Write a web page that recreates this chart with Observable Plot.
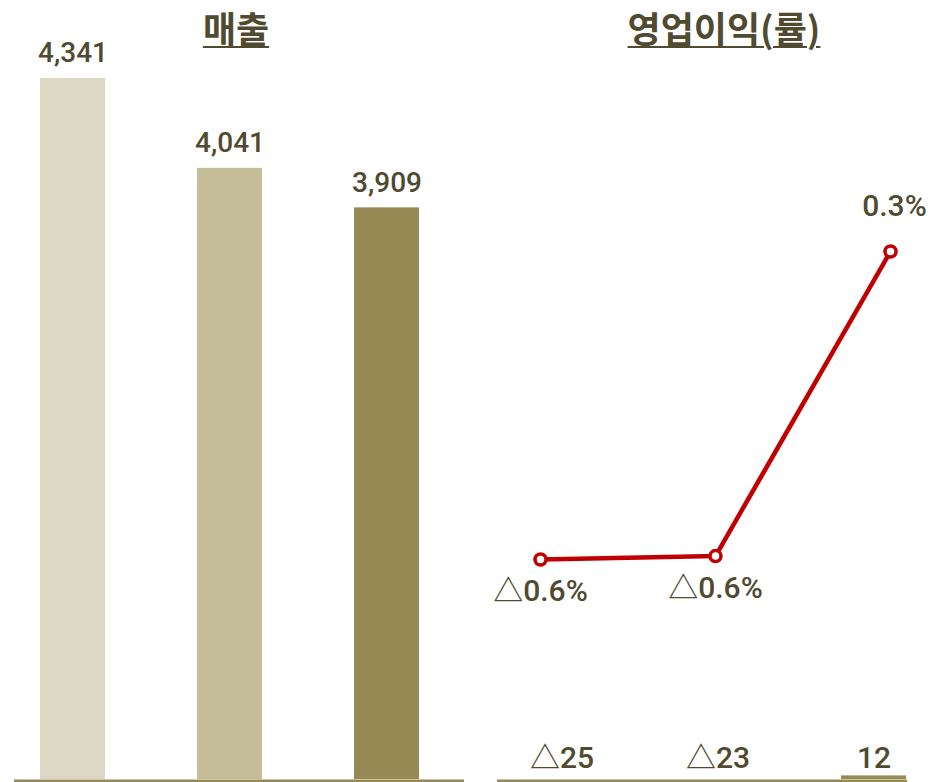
<!DOCTYPE html>
<html>
<head>
<meta charset="utf-8">
<script src="https://cdn.jsdelivr.net/npm/d3@7"></script>
<script src="https://cdn.jsdelivr.net/npm/@observablehq/plot@0.6"></script>
<style>
  html, body { margin: 0; padding: 0; background: #ffffff; }
  #wrap { position: relative; width: 945px; height: 782px; overflow: hidden; }
  #wrap svg { position: absolute; left: 0; top: 0; z-index: 1; }
  .title {
    position: absolute; top: 5px; width: 300px; text-align: center; z-index: 5;
    font-family: "Noto Sans CJK KR", sans-serif; font-weight: 700; font-size: 36px;
    line-height: 44px; color: #4f4a30;
    text-decoration: underline; text-decoration-thickness: 2px; text-underline-offset: 3px;
    text-decoration-color: #4f4a30;
  }
</style>
</head>
<body>
<div id="wrap"></div>
<script>
// ---- data ----
const periods = ["P1", "P2", "P3"];
const sales = [4341, 4041, 3909];
const salesLabels = ["4,341", "4,041", "3,909"];
const opIncome = [-25, -23, 12];
const opIncomeLabels = ["△25", "△23", "12"];
const opMargin = [-0.58, -0.57, 0.31];
const opMarginLabels = ["△0.6%", "△0.6%", "0.3%"];
const barColors = ["#ddd8c3", "#c5bd98", "#958a53"];
const titles = ["매출", "영업이익(률)"];

const textColor = "#4f4a30";
const olive = "#958a53";
const red = "#c00000";
const fontFamily = "Roboto, 'Noto Sans CJK KR', sans-serif";
const salesAxisMin = 2000;

const salesData = periods.map((p, i) => ({period: p, value: sales[i], label: salesLabels[i]}));
const incomeData = periods.map((p, i) => ({period: p, value: opIncome[i], label: opIncomeLabels[i]}));
const marginData = periods.map((p, i) => ({period: p, value: opMargin[i], label: opMarginLabels[i]}));

const wrap = document.getElementById("wrap");
const baseStyle = {background: "transparent", fontFamily, overflow: "visible"};

// Left panel: 매출
const left = Plot.plot({
  width: 945, height: 782,
  marginTop: 0, marginBottom: 3, marginLeft: 14, marginRight: 481,
  style: baseStyle,
  x: {type: "band", domain: periods, range: [14, 464], paddingInner: 0.587, paddingOuter: 0.222, align: 0.371, axis: null},
  y: {domain: [salesAxisMin, 4341], range: [779, 78], axis: null},
  color: {domain: periods, range: barColors},
  marks: [
    Plot.barY(salesData, {x: "period", y1: d => salesAxisMin, y2: "value", fill: "period"}),
    Plot.text(salesData, {x: "period", y: "value", text: "label", dy: -25, fontSize: 28, fontWeight: 500, fill: textColor}),
    Plot.ruleY([salesAxisMin], {stroke: olive, strokeWidth: 3, dy: 1.5})
  ]
});
wrap.appendChild(left);

// Right panel: 영업이익 bars
const rightBars = Plot.plot({
  width: 945, height: 782,
  marginTop: 0, marginBottom: 3, marginLeft: 497, marginRight: 38,
  style: baseStyle,
  x: {type: "band", domain: periods, range: [497, 907], paddingInner: 0.586, paddingOuter: 0.099, align: 0.968, axis: null},
  y: {domain: [0, 4341 - salesAxisMin], range: [779, 78], axis: null},
  marks: [
    Plot.barY(incomeData, {x: "period", y1: d => 0, y2: "value", fill: olive, clip: true}),
    Plot.text(incomeData, {x: "period", y: d => 0, text: "label", dy: -21, fontSize: 30, fontWeight: 500, fill: textColor}),
    Plot.ruleY([0], {stroke: olive, strokeWidth: 3, dy: 1.5})
  ]
});
wrap.appendChild(rightBars);

// Right panel: 영업이익률 line
const rightLine = Plot.plot({
  width: 945, height: 782,
  margin: 0,
  style: baseStyle,
  x: {type: "point", domain: periods, range: [539, 890], padding: 0, axis: null},
  y: {domain: [-0.58, 0.31], range: [559, 251], axis: null},
  marks: [
    Plot.lineY(marginData, {x: "period", y: "value", stroke: red, strokeWidth: 4.5}),
    Plot.dot(marginData, {x: "period", y: "value", r: 5.5, fill: "white", stroke: red, strokeWidth: 3.5}),
    Plot.text(marginData, {filter: d => d.value < 0, x: "period", y: "value", text: "label", dy: 32, fontSize: 30, fontWeight: 500, fill: textColor}),
    Plot.text(marginData, {filter: d => d.value >= 0, x: "period", y: "value", text: "label", dy: -45, dx: 4, fontSize: 30, fontWeight: 500, fill: textColor})
  ]
});
wrap.appendChild(rightLine);

// Panel titles
const titleLefts = [86, 574];
titles.forEach((t, i) => {
  const div = document.createElement("div");
  div.className = "title";
  div.style.left = titleLefts[i] + "px";
  div.textContent = t;
  wrap.appendChild(div);
});
</script>
</body>
</html>
